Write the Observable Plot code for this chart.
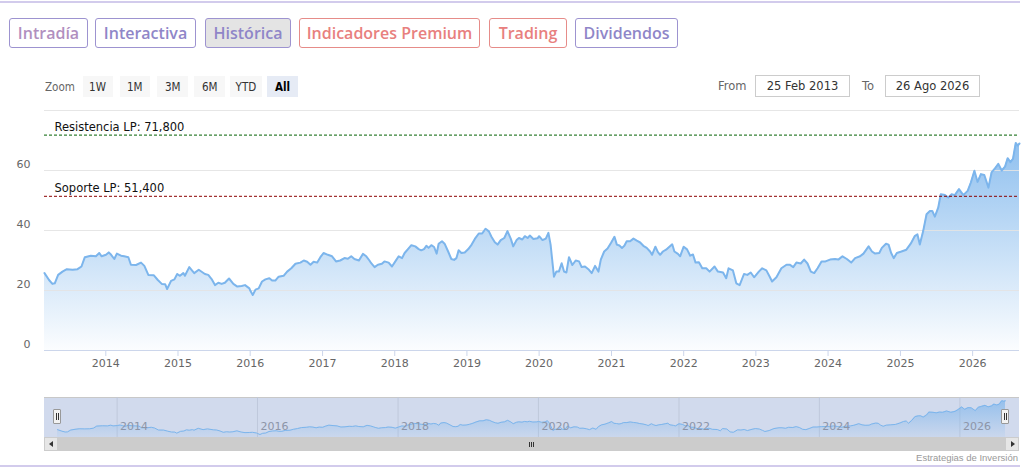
<!DOCTYPE html>
<html><head><meta charset="utf-8">
<script src="https://cdn.jsdelivr.net/npm/d3@7"></script>
<script src="https://cdn.jsdelivr.net/npm/@observablehq/plot@0.6"></script>
<style>
html,body{margin:0;padding:0;background:#fff;}
#page{position:relative;width:1034px;height:473px;overflow:hidden;font-family:"DejaVu Sans",sans-serif;}
.hr{position:absolute;left:0;width:1020px;height:0;border-top:2px solid #d2cbec;}
.btn{position:absolute;top:18px;height:30px;box-sizing:border-box;border:1px solid #9d93d0;border-radius:3px;font-family:"Open Sans",sans-serif;font-weight:600;font-size:16px;line-height:28px;text-align:center;color:#8f86c8;white-space:nowrap;}
.btn.red{border-color:#e68c89;color:#e8807e;}
.btn.sel{background:#e4e4e4;}
.zl{position:absolute;top:76px;height:21px;line-height:21px;font-family:"DejaVu Sans",sans-serif;font-size:13px;color:#666;}
.zb{position:absolute;top:76px;height:21px;line-height:21px;background:#f7f7f7;text-align:center;font-family:"DejaVu Sans",sans-serif;font-size:13px;color:#333;}
.zb span,.zl span{display:inline-block;transform:scaleX(0.8);transform-origin:center;}
.zl span{transform-origin:left;}
.zb.on{background:#e6ebf5;font-weight:bold;color:#000;}
.lab{position:absolute;top:76px;height:21px;line-height:21px;font-size:11.5px;color:#666;}
.box{position:absolute;top:75px;height:22px;box-sizing:border-box;border:1px solid #ccc;line-height:20px;font-size:11.5px;color:#333;text-align:center;}
#main{position:absolute;left:0;top:100px;}
#navbg{position:absolute;left:44px;top:397px;width:975px;height:40px;background:#d1daed;border-top:1px solid #c8c8c8;box-sizing:border-box;}
#nav{position:absolute;left:0;top:397px;}
.handle{position:absolute;top:409px;width:8px;height:15px;box-sizing:border-box;background:#f2f2f2;border:1px solid #999;border-radius:1px;}
.handle::before,.handle::after{content:"";position:absolute;top:3px;height:7px;width:0;border-left:1px solid #333;}
.handle::before{left:1.5px;}.handle::after{left:3.5px;}
#track{position:absolute;left:44px;top:437px;width:975px;height:14px;background:#f2f2f2;}
#thumb{position:absolute;left:58px;top:437px;width:947px;height:14px;background:#cccccc;}
.grip{position:absolute;top:442px;height:5px;width:0;border-left:1px solid #333;}
.sbtn{position:absolute;top:437px;width:14px;height:14px;box-sizing:border-box;background:#e6e6e6;border:1px solid #ccc;}
.arrL{position:absolute;left:4px;top:3px;width:0;height:0;border-top:3px solid transparent;border-bottom:3px solid transparent;border-right:4px solid #333;}
.arrR{position:absolute;left:5px;top:3px;width:0;height:0;border-top:3px solid transparent;border-bottom:3px solid transparent;border-left:4px solid #333;}
#credit{position:absolute;right:16px;top:452px;font-family:"Liberation Sans",sans-serif;font-size:9.5px;color:#999;}
</style></head>
<body>
<div id="page">
  <div class="hr" style="top:1px"></div>
  <div class="hr" style="top:465px"></div>
  <div class="btn" style="left:9px;width:79px;color:#b18fbf">Intradía</div>
  <div class="btn" style="left:95px;width:101px">Interactiva</div>
  <div class="btn sel" style="left:205px;width:86px">Histórica</div>
  <div class="btn red" style="left:299px;width:181px">Indicadores Premium</div>
  <div class="btn red" style="left:489px;width:78px">Trading</div>
  <div class="btn" style="left:575px;width:103px">Dividendos</div>

  <div class="zl" style="left:45px"><span>Zoom</span></div>
  <div class="zb" style="left:83px;width:30px"><span>1W</span></div>
  <div class="zb" style="left:120px;width:30px"><span>1M</span></div>
  <div class="zb" style="left:157px;width:31px"><span>3M</span></div>
  <div class="zb" style="left:194px;width:31px"><span>6M</span></div>
  <div class="zb" style="left:230px;width:32px"><span>YTD</span></div>
  <div class="zb on" style="left:267px;width:31px"><span>All</span></div>

  <div class="lab" style="left:718px">From</div>
  <div class="box" style="left:755px;width:95px">25 Feb 2013</div>
  <div class="lab" style="left:862px">To</div>
  <div class="box" style="left:885px;width:95px">26 Ago 2026</div>

  <div id="main"></div>
  <div id="navbg"></div>
  <div id="nav"></div>
  <div class="handle" style="left:53px"></div>
  <div class="handle" style="left:1001px"></div>
  <div id="track"></div>
  <div id="thumb"></div>
  <div class="grip" style="left:529px"></div>
  <div class="grip" style="left:531px"></div>
  <div class="grip" style="left:533px"></div>
  <div class="sbtn" style="left:44px"><div class="arrL"></div></div>
  <div class="sbtn" style="left:1005px"><div class="arrR"></div></div>
  <div id="credit">Estrategias de Inversión</div>
</div>
<script>
// ---- data ----
const dates = [
"2013-02-25","2013-03-20","2013-04-06","2013-04-18","2013-05-05","2013-05-27","2013-06-18","2013-07-17","2013-08-11","2013-08-31","2013-09-17","2013-10-17","2013-11-12","2013-11-29","2013-12-11",
"2014-01-02","2014-01-16","2014-01-28","2014-02-13","2014-02-26","2014-03-19","2014-04-04","2014-04-25","2014-05-08","2014-06-03","2014-06-28","2014-07-15","2014-08-04","2014-08-31","2014-09-21","2014-10-11","2014-10-28","2014-11-07","2014-11-27","2014-12-14","2014-12-28",
"2015-01-11","2015-01-28","2015-02-05","2015-02-27","2015-03-24","2015-04-16","2015-05-17","2015-06-03","2015-06-20","2015-07-07","2015-07-24","2015-08-10","2015-08-26","2015-09-16","2015-10-08","2015-10-28","2015-11-19","2015-12-06","2015-12-28",
"2016-01-02","2016-01-14","2016-01-28","2016-02-13","2016-03-01","2016-03-18","2016-04-07","2016-04-21","2016-05-07","2016-05-24","2016-06-18","2016-07-06","2016-07-27","2016-08-17","2016-09-11","2016-09-28","2016-10-15","2016-11-01","2016-11-17","2016-12-05","2016-12-21",
"2017-01-06","2017-01-28","2017-02-18","2017-03-10","2017-03-31","2017-04-22","2017-05-09","2017-05-26","2017-06-11","2017-07-04","2017-07-24","2017-08-10","2017-08-26","2017-09-04","2017-09-21","2017-10-08","2017-10-28","2017-11-10","2017-12-01","2017-12-18",
"2018-01-04","2018-01-21","2018-02-07","2018-02-20","2018-03-09","2018-03-26","2018-04-15","2018-05-02","2018-05-15","2018-05-29","2018-06-10","2018-06-21","2018-07-05","2018-07-19","2018-08-01","2018-08-11","2018-08-28","2018-09-10","2018-09-28","2018-10-14","2018-10-28","2018-11-09","2018-11-20","2018-12-04","2018-12-21",
"2019-01-08","2019-01-25","2019-02-10","2019-03-02","2019-03-19","2019-04-05","2019-04-22","2019-05-05","2019-05-22","2019-06-05","2019-06-21","2019-07-09","2019-07-25","2019-08-11","2019-08-23","2019-09-09","2019-09-21","2019-10-08","2019-10-21","2019-11-04","2019-11-15","2019-12-03","2019-12-24",
"2020-01-01","2020-01-18","2020-02-04","2020-02-17","2020-02-28","2020-03-16","2020-03-28","2020-04-10","2020-04-24","2020-05-06","2020-05-18","2020-05-31","2020-06-17","2020-07-04","2020-07-21","2020-08-03","2020-08-20","2020-09-06","2020-09-23","2020-10-10","2020-10-27","2020-11-08","2020-11-25","2020-12-12","2020-12-30",
"2021-01-16","2021-01-28","2021-02-10","2021-02-23","2021-03-07","2021-03-19","2021-04-05","2021-04-22","2021-05-09","2021-05-26","2021-06-11","2021-06-28","2021-07-15","2021-07-25","2021-08-11","2021-08-23","2021-09-04","2021-09-18","2021-10-04","2021-10-21","2021-11-04","2021-11-15","2021-12-03","2021-12-14",
"2022-01-01","2022-01-18","2022-02-03","2022-02-17","2022-03-02","2022-03-19","2022-04-05","2022-04-25","2022-05-12","2022-06-06","2022-06-23","2022-07-19","2022-08-04","2022-08-16","2022-09-07","2022-09-24","2022-10-11","2022-11-02","2022-11-19","2022-12-06","2022-12-23",
"2023-01-16","2023-02-02","2023-02-23","2023-03-12","2023-03-24","2023-04-15","2023-05-10","2023-06-05","2023-06-21","2023-07-09","2023-07-25","2023-08-16","2023-09-02","2023-09-19","2023-10-06","2023-10-23","2023-11-09","2023-11-29","2023-12-19",
"2024-01-11","2024-02-05","2024-02-22","2024-03-14","2024-04-05","2024-04-27","2024-05-17","2024-06-11","2024-06-28","2024-07-24","2024-08-10","2024-08-26","2024-09-16","2024-09-29","2024-10-20","2024-11-02","2024-11-15","2024-11-28","2024-12-14",
"2025-01-06","2025-01-31","2025-02-22","2025-03-14","2025-03-28","2025-04-09","2025-04-26","2025-05-13","2025-05-30","2025-06-11","2025-06-24","2025-07-11","2025-07-24","2025-08-14","2025-08-31","2025-09-17","2025-10-03","2025-10-24","2025-11-15","2025-12-07","2025-12-23",
"2026-01-10","2026-01-26","2026-02-12","2026-03-01","2026-03-22","2026-04-07","2026-04-24","2026-05-11","2026-05-28","2026-06-14","2026-06-27","2026-07-11","2026-07-24","2026-08-07","2026-08-17","2026-08-26"
];
const prices = [
25.8,23.5,22.2,22.4,25.2,26.3,27.1,26.9,27.1,28.0,31.1,31.6,31.4,32.5,31.4,
31.9,32.7,31.9,30.5,32.3,31.6,31.4,31.1,28.6,28.5,29.3,28.2,25.2,25.1,23.5,22.2,22.1,20.5,23.2,23.7,25.5,
24.9,25.8,24.9,27.8,25.8,26.9,25.5,25.2,23.8,21.8,22.6,22.2,22.6,24.0,22.2,21.3,21.5,21.8,20.7,
19.9,18.5,20.3,20.7,23.0,23.7,24.1,23.3,23.3,24.6,24.9,26.3,27.4,28.9,29.3,30.0,29.6,28.6,29.6,29.3,31.1,
32.5,31.9,31.4,29.7,30.0,30.8,30.6,31.4,30.5,30.0,32.2,31.4,30.0,29.1,27.8,28.6,28.9,29.7,29.3,28.0,
29.7,31.4,30.8,32.5,33.8,35.1,34.7,33.8,33.4,33.8,34.9,34.2,35.1,34.5,32.3,35.6,36.4,35.6,33.0,30.5,30.2,30.8,33.4,32.5,32.7,
33.8,35.3,37.2,39.0,39.0,40.6,39.7,37.9,36.1,35.3,36.8,37.5,39.8,37.2,34.7,36.8,37.5,37.0,38.1,37.5,38.3,37.2,37.4,
38.1,36.8,37.3,39.2,35.3,24.6,26.3,26.3,29.1,26.3,26.0,31.1,28.5,30.0,29.7,27.8,28.0,27.1,25.8,28.2,26.3,30.3,33.0,34.0,35.9,
37.9,35.3,35.0,34.2,34.9,36.4,36.4,37.3,36.6,36.0,34.9,34.2,33.0,31.9,34.6,32.9,31.9,33.0,33.6,34.6,35.4,33.0,32.2,31.4,
34.6,33.7,31.6,32.0,29.3,29.4,27.4,27.4,26.3,28.0,26.3,26.0,24.1,27.4,26.7,22.4,21.8,25.5,25.2,26.0,24.4,
26.3,27.4,26.7,24.6,23.0,24.4,27.4,28.6,28.6,27.8,29.3,29.0,30.3,29.0,26.3,25.8,27.4,29.7,29.7,
30.3,30.5,30.3,31.4,30.5,29.3,30.8,31.4,32.3,34.7,33.0,32.3,32.5,34.2,35.6,35.3,32.5,30.8,32.5,
33.0,33.6,35.6,38.1,38.7,35.3,39.8,45.4,46.5,46.5,44.6,47.6,52.1,51.8,51.0,52.1,51.8,53.8,51.8,53.2,56.0,
59.9,56.2,58.8,58.5,54.3,59.4,60.7,62.2,60.0,61.3,64.1,62.8,63.9,69.2,68.3,69.0
];
const rangeDates = ["2013-02-25", "2026-08-26"];
const yearTicks = [2014, 2015, 2016, 2017, 2018, 2019, 2020, 2021, 2022, 2023, 2024, 2025, 2026];
const navYears = [2014, 2016, 2018, 2020, 2022, 2024, 2026];
const yLabelTicks = [0, 20, 40, 60];
const yGridTicks = [20, 40, 60, 80];
const yDomain = [0, 80];
const navYDomain = [14, 69.5];
const refLabels = ["Resistencia LP: 71,800", "Soporte LP: 51,400"];
const refValues = [71.8, 51.4];
const refColors = ["#006100", "#8b0000"];

// ---- build ----
const parse = d3.utcParse("%Y-%m-%d");
const data = dates.map((d, i) => ({date: parse(d), price: prices[i]}));
const [start, end] = rangeDates.map(parse);
const yearDates = yearTicks.map(y => new Date(Date.UTC(y, 0, 1)));
const navYearDates = navYears.map(y => new Date(Date.UTC(y, 0, 1)));

const gradDefs = (id, top, bottom) => () => {
  const defs = d3.create("svg:defs");
  const g = defs.append("linearGradient").attr("id", id)
    .attr("x1", 0).attr("y1", 0).attr("x2", 0).attr("y2", 1);
  g.append("stop").attr("offset", "0%").attr("stop-color", "#7cb5ec").attr("stop-opacity", top);
  g.append("stop").attr("offset", "100%").attr("stop-color", "#7cb5ec").attr("stop-opacity", bottom);
  return defs.node();
};

const refMarks = refValues.flatMap((v, i) => [
  Plot.ruleY([v], {stroke: refColors[i], strokeWidth: 1, strokeDasharray: "3,2"}),
  Plot.text([v], {x: () => start, y: d => d, text: () => refLabels[i], dx: 10, dy: -8,
    textAnchor: "start", fill: "#111", fontSize: 11.5})
]);

const main = Plot.plot({
  width: 1034, height: 270,
  marginLeft: 44, marginRight: 15, marginTop: 10, marginBottom: 20,
  style: {background: "transparent", overflow: "visible", fontFamily: "DejaVu Sans", fontSize: "11px", color: "#666"},
  x: {type: "utc", domain: [start, end]},
  y: {domain: yDomain},
  marks: [
    gradDefs("mainGrad", 0.85, 0.03),
    Plot.areaY(data, {x: "date", y: "price", fill: "url(#mainGrad)"}),
    Plot.ruleY(yGridTicks, {stroke: "#e3e3e3", strokeOpacity: 0.9}),
    Plot.ruleY([0], {stroke: "#ccd6eb"}),
    Plot.lineY(data, {x: "date", y: "price", stroke: "#7cb5ec", strokeWidth: 2}),
    ...refMarks,
    Plot.axisX({ticks: yearDates, tickFormat: d => String(d.getUTCFullYear()), tickSize: 6, tickPadding: 3,
      stroke: "#ccd6eb", fill: "#666", label: null}),
    Plot.axisY({ticks: yLabelTicks, tickSize: 0, tickPadding: 14, dy: -6, fill: "#666", label: null})
  ]
});
document.getElementById("main").append(main);

const nav = Plot.plot({
  width: 1034, height: 40,
  marginLeft: 57, marginRight: 29, marginTop: 3, marginBottom: 0,
  style: {background: "transparent", overflow: "visible", fontFamily: "DejaVu Sans", fontSize: "11px"},
  x: {type: "utc", domain: [start, end], axis: null},
  y: {domain: navYDomain, axis: null},
  marks: [
    gradDefs("navGrad", 0.7, 0.08),
    Plot.ruleX(navYearDates, {stroke: "#bfc8db", insetTop: -3}),
    Plot.areaY(data, {x: "date", y1: navYDomain[0], y2: "price", fill: "url(#navGrad)"}),
    Plot.lineY(data, {x: "date", y: "price", stroke: "#7cb5ec", strokeWidth: 1}),
    Plot.text(navYearDates, {x: d => d, text: d => String(d.getUTCFullYear()), frameAnchor: "bottom",
      dx: 3, dy: -8, textAnchor: "start", fill: "#8d95a8"})
  ]
});
document.getElementById("nav").append(nav);
</script>
</body></html>
